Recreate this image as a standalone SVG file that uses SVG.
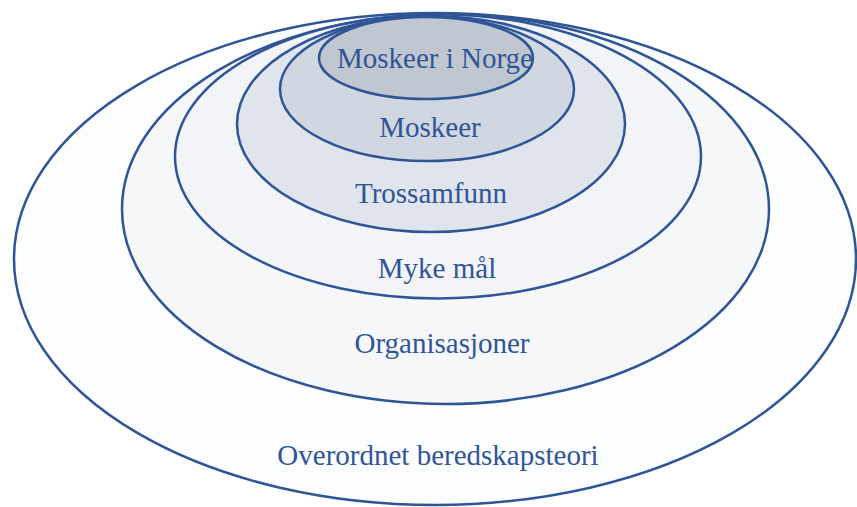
<svg xmlns="http://www.w3.org/2000/svg" width="857" height="507" viewBox="0 0 857 507">
<style>
.r{stroke:#2f5597;stroke-width:2.5}
.t{font-family:"Liberation Serif","Times New Roman",serif;font-size:29px;fill:#2f5597;text-anchor:middle}
</style>
<rect width="857" height="507" fill="#ffffff"/>
<g id="overordnet"><ellipse class="r" cx="435" cy="259" rx="421" ry="246" fill="#fcfdfe"/><text class="t" x="438" y="465">Overordnet beredskapsteori</text></g>
<g id="organisasjoner"><ellipse class="r" cx="445.5" cy="209" rx="323.5" ry="195" fill="#f6f7f9"/><text class="t" x="442" y="353">Organisasjoner</text></g>
<g id="myke"><ellipse class="r" cx="438" cy="156.5" rx="263" ry="142" fill="#f3f4f7"/><text class="t" x="437" y="278">Myke mål</text></g>
<g id="trossamfunn"><ellipse class="r" cx="431" cy="124" rx="194" ry="108" fill="#e0e4ec"/><text class="t" x="431" y="203">Trossamfunn</text></g>
<g id="moskeer"><ellipse class="r" cx="427" cy="89" rx="147" ry="72" fill="#d1d7e1"/><text class="t" x="430" y="137">Moskeer</text></g>
<g id="norge"><ellipse class="r" cx="426" cy="58" rx="107" ry="41" fill="#c1c7d1"/><text class="t" x="435" y="68">Moskeer i Norge</text></g>
<g id="connectors"/>
</svg>
